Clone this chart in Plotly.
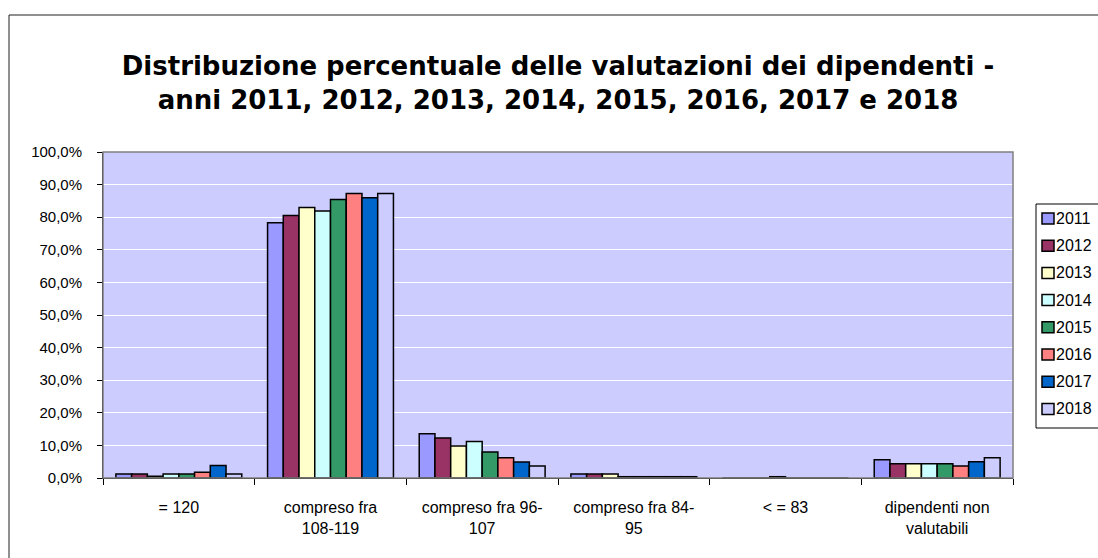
import plotly.graph_objects as go

categories = ["= 120", "compreso fra<br>108-119", "compreso fra 96-<br>107",
              "compreso fra 84-<br>95", "< = 83", "dipendenti non<br>valutabili"]
years = ["2011", "2012", "2013", "2014", "2015", "2016", "2017", "2018"]

# percent values per year, one value per category
v2011 = [1.2, 78.3, 13.6, 1.2, 0.0, 5.6]
v2012 = [1.2, 80.5, 12.3, 1.2, 0.0, 4.4]
v2013 = [0.5, 83.0, 9.8, 1.2, 0.0, 4.4]
v2014 = [1.2, 81.9, 11.2, 0.4, 0.4, 4.4]
v2015 = [1.2, 85.4, 8.0, 0.4, 0.0, 4.4]
v2016 = [1.8, 87.3, 6.2, 0.4, 0.0, 3.7]
v2017 = [3.8, 86.0, 4.9, 0.4, 0.0, 5.0]
v2018 = [1.2, 87.3, 3.7, 0.4, 0.0, 6.2]
series = [v2011, v2012, v2013, v2014, v2015, v2016, v2017, v2018]

colors = ["#9999FF", "#993366", "#FFFFCC", "#CCFFFF",
          "#339966", "#FF8080", "#0066CC", "#CCCCFF"]

fig = go.Figure()
for yr, vals, col in zip(years, series, colors):
    fig.add_trace(go.Bar(
        x=categories, y=vals, name=yr,
        marker=dict(color=col, line=dict(color="black", width=1.5)),
    ))

W, H = 1098, 558
L, R, T, B = 103, 85, 152, 80
pw, ph = W - L - R, H - T - B


def px(x):
    return (x - L) / pw


def py(y):
    return (H - B - y) / ph


# outer chart border (runs off right and bottom like the source)
fig.add_shape(type="rect", xref="paper", yref="paper",
              x0=px(9), x1=px(1200), y0=py(700), y1=py(15),
              line=dict(color="#202020", width=1), layer="below")
# grey plot-area frame
fig.add_shape(type="rect", xref="paper", yref="paper", x0=0, x1=1, y0=0, y1=1,
              line=dict(color="#808080", width=1.5))

# legend box, cut by the right edge like the source
fig.add_shape(type="rect", xref="paper", yref="paper",
              x0=px(1036), x1=px(1130), y0=py(428), y1=py(204),
              line=dict(color="black", width=1), fillcolor="white")
for i, (yr, col) in enumerate(zip(years, colors)):
    cy = 218.5 + i * 27.2
    fig.add_shape(type="rect", xref="paper", yref="paper",
                  x0=px(1042), x1=px(1054), y0=py(cy + 5.5), y1=py(cy - 5.5),
                  line=dict(color="black", width=1.5), fillcolor=col)
    fig.add_annotation(text=yr, xref="paper", yref="paper",
                       x=px(1054), y=py(cy), xanchor="left", yanchor="middle",
                       showarrow=False, font=dict(size=16))

fig.update_layout(
    width=W, height=H,
    margin=dict(l=L, r=R, t=T, b=B, autoexpand=False),
    paper_bgcolor="white", plot_bgcolor="#CCCCFF",
    separators=",.",
    barmode="group", bargap=0.17, bargroupgap=0,
    title=dict(
        text="<b>Distribuzione percentuale delle valutazioni dei dipendenti -<br>"
             "anni 2011, 2012, 2013, 2014, 2015, 2016, 2017 e 2018</b>",
        x=0.5, xanchor="center", y=(H - 75) / H, yanchor="middle",
        font=dict(family="DejaVu Sans", size=26, color="black"), xref="paper",
    ),
    font=dict(family="Liberation Sans", size=14, color="black"),
    showlegend=False,
)
fig.update_xaxes(showline=True, linecolor="black", linewidth=1,
                 ticks="outside", ticklen=6, tickcolor="black",
                 tickson="boundaries", showgrid=False,
                 ticklabelstandoff=15, tickfont=dict(size=16))
fig.update_yaxes(range=[0, 100], dtick=10, tickformat=".1f", ticksuffix="%",
                 showline=True, linecolor="black", linewidth=1,
                 ticks="outside", ticklen=5, tickcolor="black",
                 gridcolor="white", gridwidth=1, zeroline=False,
                 ticklabelstandoff=12, tickfont=dict(size=15))

fig.write_html("out.html", config={"displayModeBar": False},
               post_script="document.body.style.margin='0';")
